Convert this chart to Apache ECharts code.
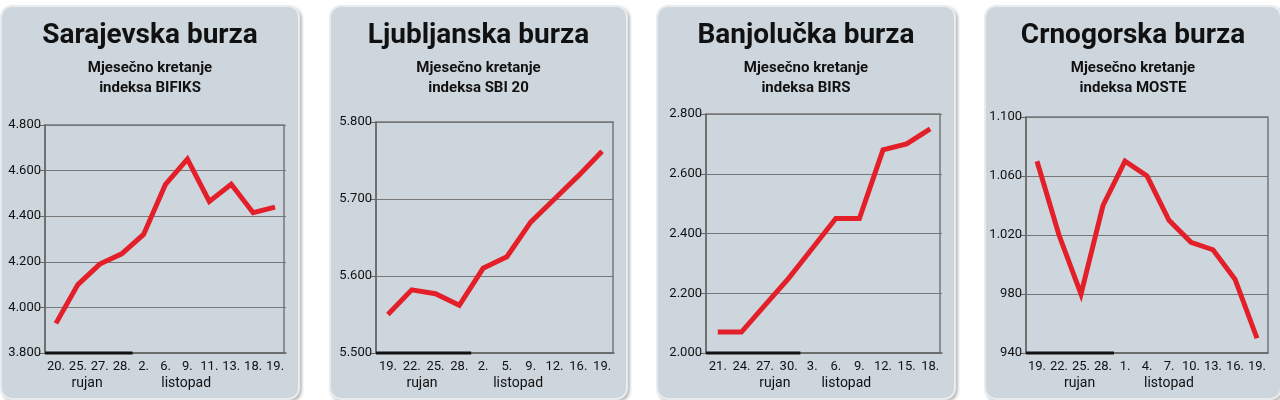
<!DOCTYPE html>
<html><head><meta charset="utf-8">
<script src="https://cdn.jsdelivr.net/npm/echarts@6/dist/echarts.min.js"></script>
<style>
body{margin:0;width:1280px;height:400px;background:#fff;position:relative;overflow:hidden;font-family:'Roboto',sans-serif}
.p{position:absolute;top:5px;height:391px;background:#cdd6dd;border:2px solid #e9ecef;border-radius:12px;box-shadow:2px 2px 3px #bbb}
</style></head><body>
<div class="p" id="c0" style="left:0;width:296px"></div>
<div class="p" id="c1" style="left:329px;width:295px"></div>
<div class="p" id="c2" style="left:656px;width:296px"></div>
<div class="p" id="c3" style="left:984px;width:294px"></div>
<script>
// Sarajevo - BIFIKS
const catsSa = ['20.', '25.', '27.', '28.', '2.', '6.', '9.', '11.', '13.', '18.', '19.'];
const valsSa = [3930, 4100, 4190, 4235, 4320, 4540, 4650, 4465, 4540, 4415, 4440];
// Ljubljana - SBI 20
const catsLj = ['19.', '22.', '25.', '28.', '2.', '5.', '9.', '12.', '16.', '19.'];
const valsLj = [5550, 5582, 5577, 5562, 5610, 5625, 5670, 5700, 5730, 5762];
// Banja Luka - BIRS
const catsBl = ['21.', '24.', '27.', '30.', '3.', '6.', '9.', '12.', '15.', '18.'];
const valsBl = [2070, 2070, 2160, 2250, 2350, 2450, 2450, 2680, 2700, 2750];
// Montenegro - MOSTE
const catsMo = ['19.', '22.', '25.', '28.', '1.', '4.', '7.', '10.', '13.', '16.', '19.'];
const valsMo = [1070, 1020, 980, 1040, 1070, 1060, 1030, 1015, 1010, 990, 950];

const panels = [
    {id: 'c0', title: 'Sarajevska burza', idx: 'BIFIKS', cats: catsSa, vals: valsSa, min: 3800, max: 4800, step: 200, top: 118, left: 43, sep: 4, rujan: 1.5, listopad: 6},
    {id: 'c1', title: 'Ljubljanska burza', idx: 'SBI 20', cats: catsLj, vals: valsLj, min: 5500, max: 5800, step: 100, top: 115, left: 45, sep: 4, rujan: 1.5, listopad: 5.5},
    {id: 'c2', title: 'Banjolučka burza', idx: 'BIRS', cats: catsBl, vals: valsBl, min: 2000, max: 2800, step: 200, top: 107, left: 48, sep: 4, rujan: 2.5, listopad: 5.5},
    {id: 'c3', title: 'Crnogorska burza', idx: 'MOSTE', cats: catsMo, vals: valsMo, min: 940, max: 1100, step: 40, top: 110, left: 40, sep: 4, rujan: 2, listopad: 6}
];

const fmt = v => v >= 1000 ? Math.floor(v / 1000) + '.' + String(v % 1000).padStart(3, '0') : String(v);
const font = 'Roboto, sans-serif';

panels.forEach(p => {
    const chart = echarts.init(document.getElementById(p.id));
    const n = p.cats.length;
    const plotW = 294 - p.left - 12;
    const colX = i => p.left + plotW * (i + 0.5) / n;
    chart.setOption({
        textStyle: {fontFamily: font},
        title: [{
            text: p.title, left: 'center', top: 10,
            textStyle: {fontSize: 28, fontWeight: 'bold', color: '#111', fontFamily: font}
        }, {
            text: 'Mjesečno kretanje\nindeksa ' + p.idx, left: 'center', top: 46,
            textStyle: {fontSize: 15, fontWeight: 'bold', color: '#111', lineHeight: 20, fontFamily: font}
        }],
        grid: {left: p.left, right: 12, top: p.top, bottom: 45},
        xAxis: {
            type: 'category', data: p.cats,
            axisLine: {lineStyle: {color: '#666', width: 1.5}},
            axisTick: {lineStyle: {color: '#666'}},
            axisLabel: {color: '#111', fontSize: 13, margin: 7, interval: 0}
        },
        yAxis: {
            type: 'value', min: p.min, max: p.max, interval: p.step,
            axisLine: {show: true, lineStyle: {color: '#666', width: 1.5}},
            axisTick: {show: true, lineStyle: {color: '#666'}},
            splitLine: {lineStyle: {color: '#777', width: 1}},
            axisLabel: {color: '#111', fontSize: 13, margin: 4, formatter: fmt}
        },
        graphic: [
            {type: 'rect', shape: {x: p.left, y: p.top, width: plotW, height: 391 - p.top - 45}, style: {fill: 'none', stroke: '#777', lineWidth: 1.5}, silent: true},
            {type: 'text', left: colX(p.rujan) - 17, top: 369, style: {text: 'rujan', fontSize: 14, fill: '#111', fontFamily: font}},
            {type: 'text', left: colX(p.listopad) - 25, top: 369, style: {text: 'listopad', fontSize: 14, fill: '#111', fontFamily: font}}
        ],
        series: [{
            type: 'line', data: p.vals, symbol: 'none',
            lineStyle: {color: '#e3202a', width: 5, join: 'miter'}
        }, {
            type: 'custom', data: [[0, p.min]],
            renderItem: (params, api) => {
                const a = api.coord([0, p.min]);
                const b = api.coord([p.sep - 1, p.min]);
                const half = api.size([1, 0])[0] / 2;
                return {type: 'line', shape: {x1: a[0] - half, y1: a[1], x2: b[0] + half, y2: b[1]}, style: {stroke: '#111', lineWidth: 3}};
            }
        }]
    });
});
</script>
</body></html>
